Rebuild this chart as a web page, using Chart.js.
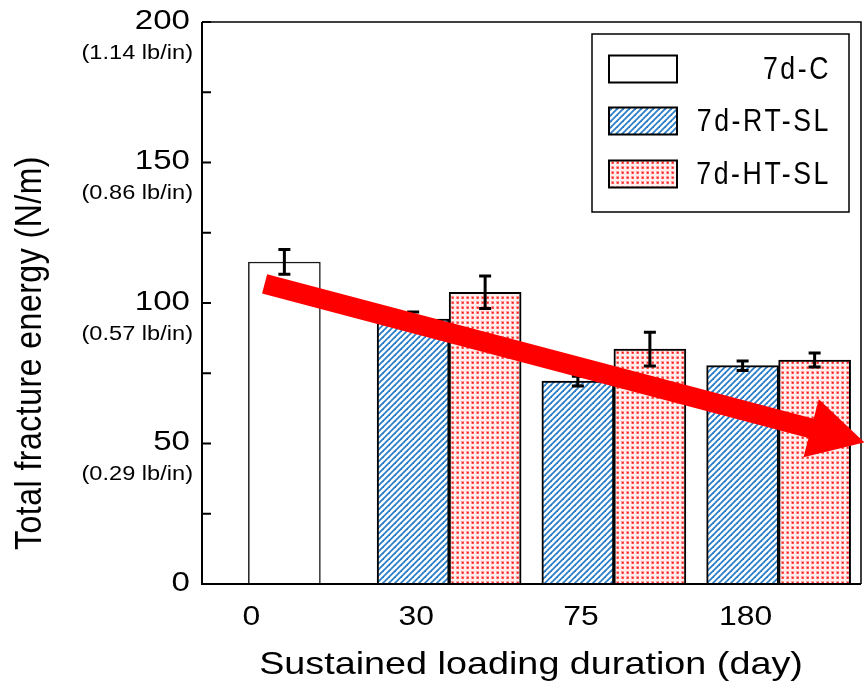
<!DOCTYPE html>
<html>
<head>
<meta charset="utf-8">
<script src="https://cdn.jsdelivr.net/npm/chart.js@4.4.1/dist/chart.umd.min.js"></script>
<style>
  html, body { margin: 0; padding: 0; background: #fff; }
  #wrap { width: 864px; height: 690px; }
</style>
</head>
<body>
<div id="wrap"><canvas id="chart" width="864" height="690"></canvas></div>
<script>
// ---- data ----
const categories = ["0", "30", "75", "180"];
const seriesNames = ["7d-C", "7d-RT-SL", "7d-HT-SL"];
const controlValues = [114.6, null, null, null];
const controlErrors = [4.4, null, null, null];
const rtValues = [null, 94.3, 72.2, 77.7];
const rtErrors = [null, 2.5, 1.7, 1.7];
const htValues = [null, 103.8, 83.6, 79.7];
const htErrors = [null, 5.8, 6.0, 2.5];
const yTicks = [0, 50, 100, 150, 200];
const yTickSub = ["", "(0.29 lb/in)", "(0.57 lb/in)", "(0.86 lb/in)", "(1.14 lb/in)"];
// trend arrow, in (category index, value) units
const arrowFrom = [-0.12, 106.8];
const arrowTo = [3.52, 50.4];

const SX = 1.18; // the picture is stretched sideways a little
const SANS = "'Liberation Sans', Arial, sans-serif";

/* ---------- fill patterns ---------- */
function stripePattern() {
    const c = document.createElement("canvas");
    c.width = 6; c.height = 6;
    const g = c.getContext("2d");
    g.fillStyle = "#ffffff";
    g.fillRect(0, 0, 6, 6);
    g.strokeStyle = "#2a7dc8";
    g.lineWidth = 1.8;
    for (let k = -1; k <= 1; k++) {
        g.beginPath();
        g.moveTo(-1 + k * 6, 7);
        g.lineTo(7 + k * 6, -1);
        g.stroke();
    }
    return g.createPattern(c, "repeat");
}

function dotPattern() {
    const c = document.createElement("canvas");
    c.width = 5; c.height = 5;
    const g = c.getContext("2d");
    g.fillStyle = "#ffeeee";
    g.fillRect(0, 0, 5, 5);
    g.fillStyle = "#ff9c9c";
    g.fillRect(1, 1, 3, 3);
    g.fillStyle = "#ff1a1a";
    g.fillRect(2, 2, 1.6, 1.6);
    return g.createPattern(c, "repeat");
}

const blueFill = stripePattern();
const pinkFill = dotPattern();

/* ---------- text helper ---------- */
function txt(ctx, s, x, y, font, align, sx, spacing) {
    ctx.save();
    ctx.translate(x, y);
    ctx.scale(sx, 1);
    ctx.font = font;
    if (spacing) ctx.letterSpacing = spacing;
    ctx.textAlign = align;
    ctx.textBaseline = "middle";
    ctx.fillStyle = "#000";
    ctx.fillText(s, 0, 0);
    ctx.restore();
}

const errorSets = [controlErrors, rtErrors, htErrors];

/* ---------- decorations plugin ---------- */
const decor = {
    id: "decor",
    afterDatasetsDraw(chart) {
        const ctx = chart.ctx;
        const xs = chart.scales.x, ys = chart.scales.y;
        const a = chart.chartArea;

        // error bars
        ctx.save();
        ctx.strokeStyle = "#000";
        ctx.lineWidth = 3;
        chart.data.datasets.forEach((ds, di) => {
            const meta = chart.getDatasetMeta(di);
            ds.data.forEach((v, i) => {
                const e = errorSets[di][i];
                if (v == null || e == null) return;
                const x = meta.data[i].x;
                const y1 = ys.getPixelForValue(v + e);
                const y2 = ys.getPixelForValue(v - e);
                ctx.beginPath();
                ctx.moveTo(x, y1); ctx.lineTo(x, y2);
                ctx.moveTo(x - 6, y1); ctx.lineTo(x + 6, y1);
                ctx.moveTo(x - 6, y2); ctx.lineTo(x + 6, y2);
                ctx.stroke();
            });
        });
        ctx.restore();

        // frame and inward ticks
        ctx.save();
        ctx.strokeStyle = "#000";
        ctx.lineWidth = 2;
        ctx.beginPath();
        ctx.moveTo(a.left, a.top); ctx.lineTo(a.left, a.bottom); ctx.lineTo(a.right, a.bottom);
        for (let v = 0; v <= 200; v += 25) {
            const y = ys.getPixelForValue(v);
            ctx.moveTo(a.left, y); ctx.lineTo(a.left + 9, y);
        }
        ctx.stroke();
        ctx.lineWidth = 1.5;
        ctx.beginPath();
        ctx.moveTo(a.left, a.top); ctx.lineTo(a.right, a.top); ctx.lineTo(a.right, a.bottom);
        ctx.stroke();
        ctx.restore();

        // arrow
        const x0 = xs.getPixelForValue(arrowFrom[0]), y0 = ys.getPixelForValue(arrowFrom[1]);
        const x1 = xs.getPixelForValue(arrowTo[0]), y1 = ys.getPixelForValue(arrowTo[1]);
        const len = Math.hypot(x1 - x0, y1 - y0);
        const ux = (x1 - x0) / len, uy = (y1 - y0) / len;
        const nx = -uy, ny = ux;
        const sw = 10, hw = 30, hl = 55;
        const bx = x1 - ux * hl, by = y1 - uy * hl;
        ctx.save();
        ctx.fillStyle = "#ff0000";
        ctx.beginPath();
        ctx.moveTo(x0 + nx * sw, y0 + ny * sw);
        ctx.lineTo(bx + nx * sw, by + ny * sw);
        ctx.lineTo(bx + nx * hw, by + ny * hw);
        ctx.lineTo(x1, y1);
        ctx.lineTo(bx - nx * hw, by - ny * hw);
        ctx.lineTo(bx - nx * sw, by - ny * sw);
        ctx.lineTo(x0 - nx * sw, y0 - ny * sw);
        ctx.closePath();
        ctx.fill();
        ctx.restore();

        // y tick labels
        yTicks.forEach((v, i) => {
            const y = ys.getPixelForValue(v);
            txt(ctx, String(v), 190, y - 1, "28px " + SANS, "right", SX);
            if (yTickSub[i]) txt(ctx, yTickSub[i], 193, y + 31, "20px " + SANS, "right", SX);
        });

        // x tick labels
        categories.forEach((c, i) => {
            const x = xs.getPixelForValue(i) - 33;
            txt(ctx, c, x, 618, "27px " + SANS, "center", SX);
        });

        // axis titles
        txt(ctx, "Sustained loading duration (day)", 531, 665, "32px " + SANS, "center", SX);
        ctx.save();
        ctx.translate(31, 353);
        ctx.scale(SX, 1);
        ctx.rotate(-Math.PI / 2);
        ctx.font = "32px " + SANS;
        ctx.letterSpacing = "0.5px";
        ctx.textAlign = "center";
        ctx.textBaseline = "middle";
        ctx.fillStyle = "#000";
        ctx.fillText("Total fracture energy (N/m)", 0, 0);
        ctx.restore();

        // legend
        ctx.save();
        ctx.fillStyle = "#fff";
        ctx.fillRect(592, 34, 257, 178);
        ctx.strokeStyle = "#000";
        ctx.lineWidth = 1.5;
        ctx.strokeRect(592, 34, 257, 178);
        const fills = ["#ffffff", blueFill, pinkFill];
        const rows = [69, 121, 174];
        seriesNames.forEach((n, i) => {
            ctx.fillStyle = fills[i];
            ctx.fillRect(609, rows[i] - 13.5, 68, 27);
            ctx.lineWidth = 2;
            ctx.strokeStyle = "#000";
            ctx.strokeRect(609, rows[i] - 13.5, 68, 27);
            txt(ctx, n, 831, rows[i] + 1, "31px " + SANS, "right", 0.86, "3px");
        });
        ctx.restore();
    }
};

new Chart(document.getElementById("chart"), {
    type: "bar",
    data: {
        labels: categories,
        datasets: [
            { label: seriesNames[0], data: controlValues, backgroundColor: "#ffffff", borderColor: "#1a1a1a", borderWidth: 1.5 },
            { label: seriesNames[1], data: rtValues, backgroundColor: blueFill, borderColor: "#000", borderWidth: 2 },
            { label: seriesNames[2], data: htValues, backgroundColor: pinkFill, borderColor: "#000", borderWidth: 2 }
        ]
    },
    options: {
        responsive: false,
        animation: false,
        skipNull: true,
        barThickness: 72,
        layout: { padding: { left: 0, right: 3, top: 22, bottom: 0 } },
        plugins: { legend: { display: false }, tooltip: { enabled: false } },
        scales: {
            x: {
                offset: true,
                grid: { display: false },
                border: { display: false },
                ticks: { display: false },
                afterFit(s) { s.height = 106; }
            },
            y: {
                min: 0, max: 200,
                grid: { display: false },
                border: { display: false },
                ticks: { display: false, stepSize: 50 },
                afterFit(s) { s.width = 202; }
            }
        }
    },
    plugins: [decor]
});
</script>
</body>
</html>
